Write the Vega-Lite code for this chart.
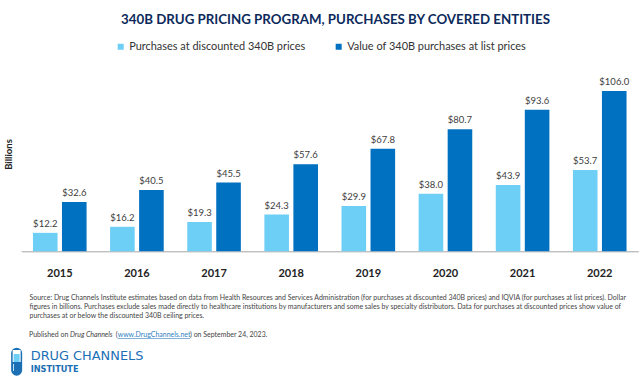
{
"$schema":"https://vega.github.io/schema/vega-lite/v6.json",
"autosize":{"type":"none"},
"padding":{"left":21.2,"top":85,"right":1.7,"bottom":124.7},
"width":617.1,"height":166.3,
"background":"white",
"config":{"font":"Lato","view":{"stroke":null}},
"title":{"text":"340B DRUG PRICING PROGRAM, PURCHASES BY COVERED ENTITIES","font":"Lato","fontSize":13.3,"fontWeight":"bold","color":"#0B2A5B","anchor":"middle","frame":"group","dx":5.75,"offset":15},
"layer":[
{"data":{"values":[
{"year":"2015","series":"Purchases at discounted 340B prices","value":12.2},
{"year":"2015","series":"Value of 340B purchases at list prices","value":32.6},
{"year":"2016","series":"Purchases at discounted 340B prices","value":16.2},
{"year":"2016","series":"Value of 340B purchases at list prices","value":40.5},
{"year":"2017","series":"Purchases at discounted 340B prices","value":19.3},
{"year":"2017","series":"Value of 340B purchases at list prices","value":45.5},
{"year":"2018","series":"Purchases at discounted 340B prices","value":24.3},
{"year":"2018","series":"Value of 340B purchases at list prices","value":57.6},
{"year":"2019","series":"Purchases at discounted 340B prices","value":29.9},
{"year":"2019","series":"Value of 340B purchases at list prices","value":67.8},
{"year":"2020","series":"Purchases at discounted 340B prices","value":38.0},
{"year":"2020","series":"Value of 340B purchases at list prices","value":80.7},
{"year":"2021","series":"Purchases at discounted 340B prices","value":43.9},
{"year":"2021","series":"Value of 340B purchases at list prices","value":93.6},
{"year":"2022","series":"Purchases at discounted 340B prices","value":53.7},
{"year":"2022","series":"Value of 340B purchases at list prices","value":106.0}
]},
"encoding":{
"x":{"field":"year","type":"nominal","scale":{"paddingInner":0.305,"paddingOuter":0.1525},
"axis":{"labelAngle":0,"labelFont":"Lato","labelFontSize":11,"labelFontWeight":"bold","labelColor":"#222222","labelPadding":16,"ticks":false,"domainColor":"#A6A6A6","domainWidth":1,
"title":["Source: Drug Channels Institute estimates based on data from Health Resources and Services Administration (for purchases at discounted 340B prices) and IQVIA (for purchases at list prices). Dollar","figures in billions. Purchases exclude sales made directly to healthcare institutions by manufacturers and some sales by specialty distributors. Data for purchases at discounted prices show value of","purchases at or below the discounted 340B ceiling prices."],
"titleFont":"Lato","titleFontSize":6.96,"titleFontWeight":"normal","titleColor":"#444444","titleLineHeight":9.2,"titleAnchor":"start","titleAlign":"left","titleBaseline":"top","titleX":7.8,"titleY":43}},
"xOffset":{"field":"series","scale":{"paddingInner":0.152}},
"y":{"field":"value","type":"quantitative","scale":{"domain":[0,110]},
"axis":{"title":"Billions","titleFont":"Lato","titleFontSize":9.5,"titleFontWeight":"bold","titleColor":"#222222","titleX":-8,"titleY":69,"labels":false,"ticks":false,"domain":false,"grid":false}}
},
"layer":[
{"mark":{"type":"bar"},
"encoding":{"color":{"field":"series","type":"nominal","scale":{"domain":["Purchases at discounted 340B prices","Value of 340B purchases at list prices"],"range":["#6DCFF6","#0070C0"]},
"legend":{"title":null,"orient":"none","legendX":94,"legendY":-44,"direction":"horizontal","columns":2,"columnPadding":27,"symbolType":"square","symbolSize":36,"labelFont":"Lato","labelFontSize":10.95,"labelColor":"#333333","labelOffset":3,"labelLimit":300}}}},
{"mark":{"type":"text","baseline":"alphabetic","dy":-6,"font":"Lato","fontSize":9.5,"color":"#404040"},
"encoding":{"y":{"field":"value","type":"quantitative"},"text":{"field":"value","type":"quantitative","format":"$.1f"}}}
]},
{"data":{"values":[{"t":"Published on "}]},"mark":{"type":"text","align":"left","baseline":"alphabetic","font":"Lato","fontSize":6.96,"color":"#444444"},"encoding":{"x":{"value":7.8},"y":{"value":252},"text":{"field":"t"}}},
{"data":{"values":[{"t":"Drug Channels"}]},"mark":{"type":"text","align":"left","baseline":"alphabetic","font":"Lato","fontSize":6.96,"fontStyle":"italic","color":"#444444"},"encoding":{"x":{"value":48.8},"y":{"value":252},"text":{"field":"t"}}},
{"data":{"values":[{"t":"("}]},"mark":{"type":"text","align":"left","baseline":"alphabetic","font":"Lato","fontSize":6.96,"color":"#444444"},"encoding":{"x":{"value":94.5},"y":{"value":252},"text":{"field":"t"}}},
{"data":{"values":[{"t":"www.DrugChannels.net"}]},"mark":{"type":"text","align":"left","baseline":"alphabetic","font":"Lato","fontSize":6.96,"color":"#2F7FC1"},"encoding":{"x":{"value":96.5},"y":{"value":252},"text":{"field":"t"}}},
{"data":{"values":[{"t":") on September 24, 2023."}]},"mark":{"type":"text","align":"left","baseline":"alphabetic","font":"Lato","fontSize":6.96,"color":"#444444"},"encoding":{"x":{"value":168.8},"y":{"value":252},"text":{"field":"t"}}},
{"data":{"values":[{"p":"underline"}]},"mark":{"type":"rule","color":"#2F7FC1","strokeWidth":0.6},"encoding":{"x":{"value":96.5},"x2":{"value":168.8},"y":{"value":253.5}}},
{"data":{"values":[{"t":"DRUG CHANNELS"}]},"mark":{"type":"text","align":"left","baseline":"alphabetic","font":"DejaVu Sans","fontSize":12.9,"color":"#1B6FB5"},"encoding":{"x":{"value":9.5},"y":{"value":275},"text":{"field":"t"}}},
{"data":{"values":[{"t":"INSTITUTE"}]},"mark":{"type":"text","align":"left","baseline":"alphabetic","font":"DejaVu Sans","fontSize":8.2,"fontWeight":"bold","color":"#1B6FB5"},"encoding":{"x":{"value":9.5},"y":{"value":287},"text":{"field":"t"}}},
{"data":{"values":[{"p":"capsule"}]},"mark":{"type":"rule","color":"#1B6FB5","strokeWidth":11,"strokeCap":"round"},"encoding":{"x":{"value":-4.55},"y":{"value":268.2},"y2":{"value":285.2}}},
{"data":{"values":[{"p":"inner"}]},"mark":{"type":"rule","color":"#FFFFFF","strokeWidth":8},"encoding":{"x":{"value":-4.55},"y":{"value":265},"y2":{"value":277}}},
{"data":{"values":[{"p":"fill"}]},"mark":{"type":"rule","color":"#6DCFF6","strokeWidth":6},"encoding":{"x":{"value":-4.55},"y":{"value":269},"y2":{"value":277}}},
{"data":{"values":[{"p":"slit"}]},"mark":{"type":"rule","color":"#BFE6F8","strokeWidth":1},"encoding":{"x":{"value":-7.7},"y":{"value":279},"y2":{"value":286}}}
]
}
